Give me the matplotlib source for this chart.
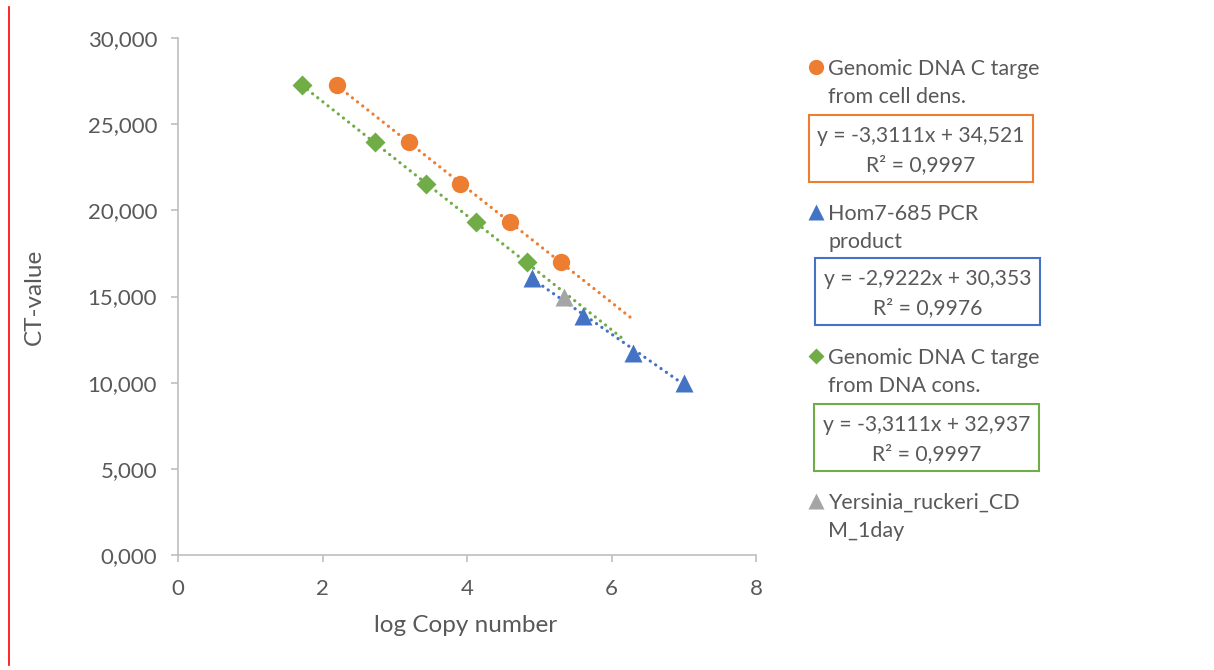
import matplotlib
matplotlib.use("Agg")
import matplotlib.pyplot as plt
import numpy as np
from matplotlib.lines import Line2D
from matplotlib.patches import Rectangle

plt.rcParams['font.family'] = ['Lato', 'DejaVu Sans']

# Standard-curve data (log copy number vs CT)
cell_x = [2.20, 3.20, 3.90, 4.60, 5.30]
cell_y = [27.30, 23.95, 21.52, 19.30, 17.00]
pcr_x = [4.90, 5.60, 6.30, 7.00]
pcr_y = [16.05, 13.85, 11.75, 9.98]
dna_x = [1.72, 2.73, 3.43, 4.12, 4.83]
dna_y = [27.25, 23.95, 21.52, 19.30, 17.00]
yers_x = [5.34]
yers_y = [15.00]

# Linear trendline parameters (slope, intercept, R²) and plotted x-range
fit_slope = [-3.3111, -2.9222, -3.3111]
fit_icpt = [34.521, 30.353, 32.937]
fit_r2 = [0.9997, 0.9976, 0.9997]
fit_range = [(2.20, 6.30), (4.90, 7.00), (1.72, 6.14)]

series_names = [("Genomic DNA C targe", "from cell dens."),
                ("Hom7-685 PCR", "product"),
                ("Genomic DNA C targe", "from DNA cons."),
                ("Yersinia_ruckeri_CD", "M_1day")]

c_orange = "#ED7D31"
c_blue = "#4472C4"
c_green = "#70AD47"
c_gray = "#A5A5A5"
txt = "#595959"

fig = plt.figure(figsize=(12.14, 6.70), dpi=100)
W, H = 1214, 670
ax = fig.add_axes([178 / W, 1 - 555 / H, (756 - 178) / W, (555 - 38) / H])

# trendlines
for (slope, icpt, (x0, x1), col) in zip(fit_slope, fit_icpt, fit_range,
                                        [c_orange, c_blue, c_green]):
    xs = np.array([x0, x1])
    ax.plot(xs, slope * xs + icpt, color=col, lw=2.3,
            linestyle=(0, (0.05, 2.0)), dash_capstyle='round', zorder=2)

ax.plot(cell_x, cell_y, 'o', color=c_orange, ms=12.5, mec='none', zorder=3)
ax.plot(pcr_x, pcr_y, '^', color=c_blue, ms=13, mec='none', zorder=3)
ax.plot(dna_x, dna_y, 'D', color=c_green, ms=10, mec='none', zorder=3)
ax.plot(yers_x, yers_y, '^', color=c_gray, ms=13, mec='none', zorder=3)

ax.set_xlim(0, 8)
ax.set_ylim(0, 30)
ax.set_xticks([0, 2, 4, 6, 8])
ax.set_yticks([0, 5, 10, 15, 20, 25, 30])
ax.set_yticklabels([f"{v:.3f}".replace('.', ',') for v in [0, 5, 10, 15, 20, 25, 30]])
for s in ['top', 'right']:
    ax.spines[s].set_visible(False)
for s in ['left', 'bottom']:
    ax.spines[s].set_color("#BFBFBF")
    ax.spines[s].set_linewidth(1.2)
ax.tick_params(axis='both', colors="#BFBFBF", labelcolor=txt, labelsize=16,
               length=5, width=1.2, direction='out')
ax.tick_params(axis='y', pad=10)
ax.tick_params(axis='x', pad=12)

fig.text(466 / W, 1 - 626 / H, "log Copy number", ha='center', va='center',
         fontsize=17.5, color=txt)
fig.text(34 / W, 1 - 297 / H, "CT-value", ha='center', va='center',
         fontsize=17.5, color=txt, rotation=90)

# legend entries with trendline equations
markers = ['o', '^', 'D', '^']
mcols = [c_orange, c_blue, c_green, c_gray]
msizes = [11, 11, 8.5, 11]
entry_y = [67, 212, 356, 501]
for (l1, l2), mk, col, ms, ey in zip(series_names, markers, mcols, msizes, entry_y):
    fig.add_artist(Line2D([816 / W], [1 - ey / H], marker=mk, color=col, ms=ms,
                          mec='none', linestyle='none', transform=fig.transFigure))
    fig.text(828 / W, 1 - ey / H, l1, ha='left', va='center_baseline',
             fontsize=15.5, color=txt)
    fig.text(828 / W, 1 - (ey + 28) / H, l2, ha='left', va='center_baseline',
             fontsize=15.5, color=txt)

boxes = [(809, 115, 1033, 182), (815, 258, 1040, 325), (814, 404, 1039, 471)]
for (x0, y0, x1, y1), slope, icpt, r2, col in zip(boxes, fit_slope, fit_icpt,
                                                  fit_r2, [c_orange, c_blue, c_green]):
    fig.add_artist(Rectangle((x0 / W, 1 - y1 / H), (x1 - x0) / W, (y1 - y0) / H,
                             transform=fig.transFigure, fill=False,
                             edgecolor=col, lw=1.5))
    eq = f"y = {slope:.4f}x + {icpt:.3f}".replace('.', ',')
    r2s = f"R² = {r2:.4f}".replace('.', ',')
    xc = (x0 + x1) / 2 / W
    fig.text(xc, 1 - (y0 + 19) / H, eq, ha='center', va='center_baseline',
             fontsize=15.2, color=txt)
    fig.text(xc, 1 - (y0 + 48) / H, r2s, ha='center', va='center_baseline',
             fontsize=15.2, color=txt)

# red vertical rule at the left edge
fig.add_artist(Line2D([8.5 / W, 8.5 / W], [1 - 7 / H, 1 - 665 / H], color='red',
                      lw=1.2, transform=fig.transFigure))

fig.savefig("out.png", dpi=100, facecolor='white')
